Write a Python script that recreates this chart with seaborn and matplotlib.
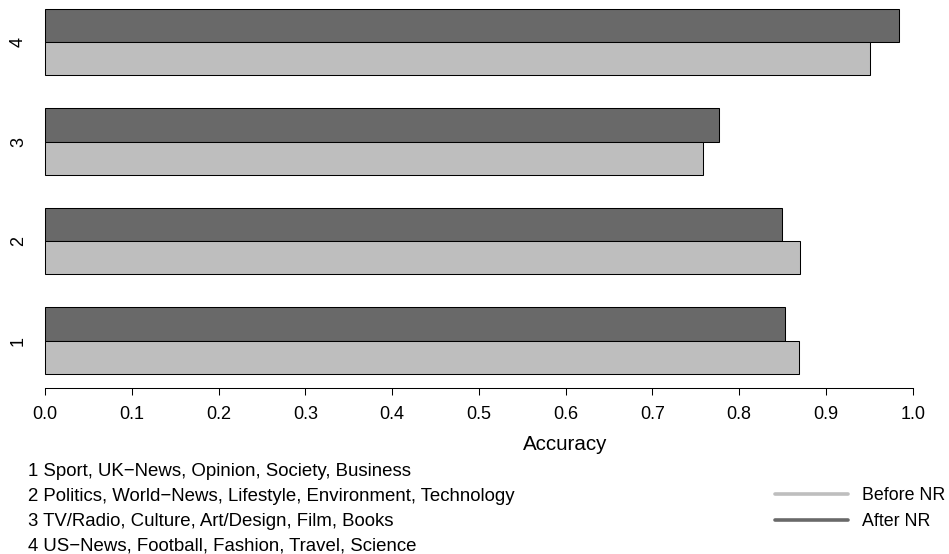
import matplotlib
matplotlib.use('Agg')
import matplotlib.pyplot as plt
from matplotlib.lines import Line2D
import pandas as pd
import seaborn as sns

# Topic groups and classification accuracy before/after noise removal
groups = ['1', '2', '3', '4']
group_names = [
    'Sport, UK\u2212News, Opinion, Society, Business',
    'Politics, World\u2212News, Lifestyle, Environment, Technology',
    'TV/Radio, Culture, Art/Design, Film, Books',
    'US\u2212News, Football, Fashion, Travel, Science',
]
before_nr = [0.869, 0.870, 0.758, 0.951]
after_nr = [0.853, 0.849, 0.777, 0.984]
series = ['Before NR', 'After NR']
colors = {'Before NR': '#BEBEBE', 'After NR': '#696969'}
x_ticks = [0.0, 0.1, 0.2, 0.3, 0.4, 0.5, 0.6, 0.7, 0.8, 0.9, 1.0]

sns.set_theme(style='white', rc={
    'text.color': 'black', 'axes.labelcolor': 'black',
    'xtick.color': 'black', 'ytick.color': 'black',
    'axes.edgecolor': 'black', 'xtick.bottom': True,
})
plt.rcParams['font.family'] = ['Liberation Sans', 'DejaVu Sans']

df = pd.DataFrame({
    'group': groups * 2,
    'series': ['Before NR'] * len(groups) + ['After NR'] * len(groups),
    'accuracy': before_nr + after_nr,
})

W, H = 949, 554
fig = plt.figure(figsize=(W / 100, H / 100), dpi=100)
ax = fig.add_axes([10.3 / W, (H - 388.3) / H, 937.1 / W, 388.3 / H])

sns.barplot(data=df, x='accuracy', y='group', hue='series',
            order=groups[::-1], hue_order=['After NR', 'Before NR'],
            palette=colors, saturation=1, width=2 / 3, orient='h',
            edgecolor='black', linewidth=0.75, errorbar=None,
            legend=False, ax=ax)

ax.set_xlim(-0.04, 1.04)
ax.set_ylim(3.48, -0.422)

for side in ('top', 'right', 'left'):
    ax.spines[side].set_visible(False)
ax.spines['bottom'].set_bounds(0, 1)
ax.spines['bottom'].set_linewidth(0.75)

ax.set_xticks(x_ticks)
ax.set_xticklabels([f'{t:.1f}' for t in x_ticks])
ax.tick_params(axis='x', length=5, width=0.75, labelsize=13, pad=7.5)
ax.tick_params(axis='y', length=0, pad=-12, labelsize=13)
for lbl in ax.get_yticklabels():
    lbl.set_rotation(90)
    lbl.set_va('center')

ax.set_xlabel('Accuracy', fontsize=14.8)
ax.xaxis.set_label_coords((565 - 10.3) / 937.1, -(435.5 - 388.3) / 388.3)
ax.set_ylabel('')

# Group descriptions below the axis
for i, (g, name) in enumerate(zip(groups, group_names)):
    fig.text(28 / W, 1 - (472 + i * 24.7) / H, f'{g} {name}',
             fontsize=13.4, va='center', ha='left')

handles = [Line2D([], [], color=colors[s], lw=2.6) for s in series]
fig.legend(handles, series, loc='upper left',
           bbox_to_anchor=(775 / W, 1 - 487 / H), frameon=False,
           fontsize=12.8, handlelength=4.1, handletextpad=0.8,
           borderpad=0, borderaxespad=0, labelspacing=0.5)

fig.savefig('out.png', dpi=100)
